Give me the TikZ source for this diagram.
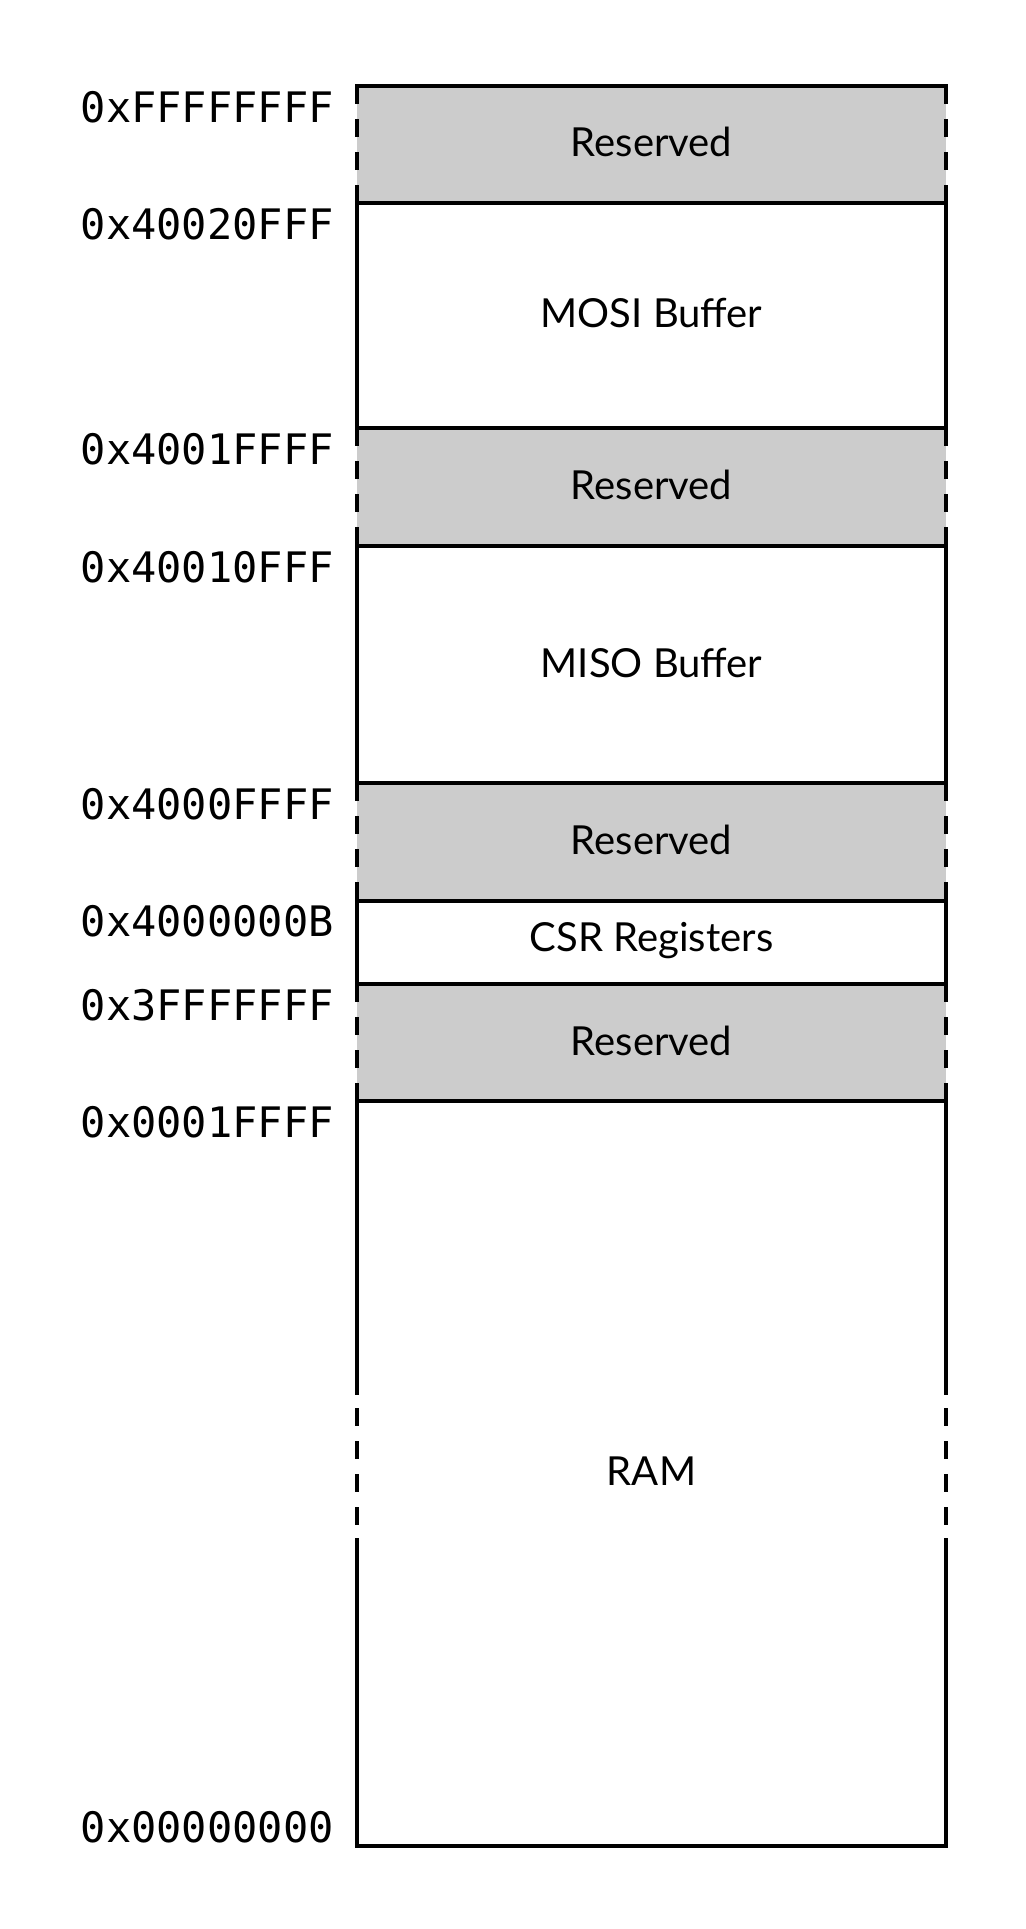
\documentclass[tikz,border=0pt]{standalone}
\usepackage{fontspec}
\setmainfont{Lato}
\setmonofont{DejaVu Sans Mono}
\usetikzlibrary{positioning}
\definecolor{reservedgray}{HTML}{CCCCCC}

\tikzset{
  memline/.style={line width=1.8pt, line cap=rect},
  memdash/.style={line width=1.8pt, dash pattern=on 9pt off 7.5pt},
  addrlabel/.style={font=\ttfamily\fontsize{21}{25}\selectfont, anchor=east, inner sep=0pt},
  regionlabel/.style={font=\fontsize{20}{24}\selectfont, inner sep=0pt},
}

\begin{document}
\begin{tikzpicture}[x=0.5pt, y=-0.5pt]
  \useasboundingbox (0,0) rectangle (1025,1929);

  % Reserved regions (grey fill, dashed sides)
  \fill[reservedgray] (357,86) rectangle (946,203);
  \fill[reservedgray] (357,428) rectangle (946,546);
  \fill[reservedgray] (357,783) rectangle (946,901);
  \fill[reservedgray] (357,984) rectangle (946,1101);
  \foreach \xs in {357,946} {
    \draw[memdash] (\xs,86) -- (\xs,203);
    \draw[memdash] (\xs,428) -- (\xs,546);
    \draw[memdash] (\xs,783) -- (\xs,901);
    \draw[memdash] (\xs,984) -- (\xs,1101);
  }

  % Mapped regions (solid sides)
  \foreach \xs in {357,946} {
    \draw[memline] (\xs,203) -- (\xs,428);
    \draw[memline] (\xs,546) -- (\xs,783);
    \draw[memline] (\xs,901) -- (\xs,984);
    % RAM, broken in the middle
    \draw[memline] (\xs,1101) -- (\xs,1393);
    \draw[memdash] (\xs,1408) -- (\xs,1525);
    \draw[memline] (\xs,1540) -- (\xs,1846);
  }

  % Region boundaries
  \foreach \ys in {86,203,428,546,783,901,984,1101,1846}
    \draw[memline] (357,\ys) -- (946,\ys);

  % Region names
  \node[regionlabel] (res1) at (651.5,142) {Reserved};
  \node[regionlabel] (mosi) at (651.5,313.5) {MOSI Buffer};
  \node[regionlabel] (res2) at (651.5,485) {Reserved};
  \node[regionlabel] (miso) at (651.5,662.5) {MISO Buffer};
  \node[regionlabel] (res3) at (651.5,840) {Reserved};
  \node[regionlabel] (csr) at (651.5,940.5) {CSR Registers};
  \node[regionlabel] (res4) at (651.5,1040.5) {Reserved};
  \node[regionlabel] (ram) at (651.5,1471) {RAM};

  % Addresses
  \node[addrlabel] (aFFFFFFFF) at (334,107) {0xFFFFFFFF};
  \node[addrlabel] (a40020FFF) at (334,224) {0x40020FFF};
  \node[addrlabel] (a4001FFFF) at (334,449) {0x4001FFFF};
  \node[addrlabel] (a40010FFF) at (334,567) {0x40010FFF};
  \node[addrlabel] (a4000FFFF) at (334,804) {0x4000FFFF};
  \node[addrlabel] (a4000000B) at (334,921) {0x4000000B};
  \node[addrlabel] (a3FFFFFFF) at (334,1005) {0x3FFFFFFF};
  \node[addrlabel] (a0001FFFF) at (334,1122) {0x0001FFFF};
  \node[addrlabel] (a00000000) at (334,1827) {0x00000000};
\end{tikzpicture}
\end{document}
